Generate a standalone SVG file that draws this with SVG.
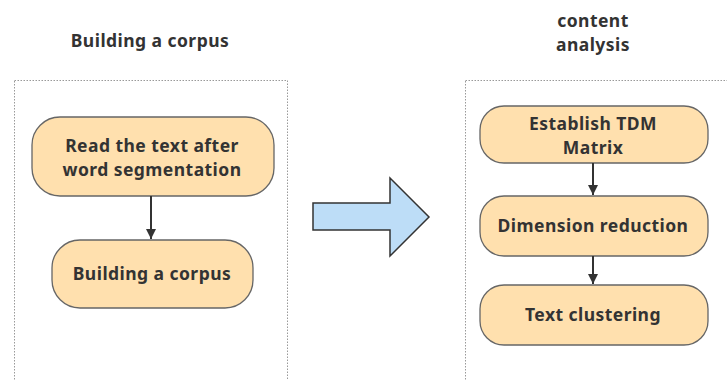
<svg xmlns="http://www.w3.org/2000/svg" width="727" height="380" viewBox="0 0 727 380">
<style>
text{font-family:"Noto Sans","Open Sans","Liberation Sans",sans-serif;font-weight:bold;font-size:17.5px;fill:#333;text-anchor:middle;letter-spacing:0.45px}
.box{fill:#FFE0AE;stroke:#666;stroke-width:1.3}
.cont{fill:none;stroke:#999;stroke-width:1;stroke-dasharray:1.5 1.5}
.edge{stroke:#333;stroke-width:2;fill:none}
</style>
<defs>
<marker id="ah" viewBox="0 0 10 10" refX="10" refY="5" markerWidth="5" markerHeight="6" orient="auto" markerUnits="strokeWidth">
<path d="M0,0 L10,5 L0,10 Z" fill="#333"/>
</marker>
</defs>
<rect width="727" height="380" fill="#fff"/>
<g id="left-container">
<rect class="cont" x="14.5" y="80.5" width="273" height="310"/>
<text x="150" y="47">Building a corpus</text>
</g>
<g id="right-container">
<rect class="cont" x="465.5" y="80.5" width="300" height="310"/>
<text x="593" y="27"><tspan x="593">content</tspan><tspan x="593" dy="24">analysis</tspan></text>
</g>
<g id="n1">
<rect class="box" x="32" y="117" width="242" height="79" rx="28"/>
<text x="152" y="152"><tspan x="152">Read the text after</tspan><tspan x="152" dy="24">word segmentation</tspan></text>
</g>
<g id="n2">
<rect class="box" x="52" y="240" width="201" height="68" rx="28"/>
<text x="152" y="280">Building a corpus</text>
</g>
<g id="n3">
<rect class="box" x="480" y="106" width="228" height="57" rx="24"/>
<text x="593" y="130"><tspan x="593">Establish TDM</tspan><tspan x="593" dy="24">Matrix</tspan></text>
</g>
<g id="n4">
<rect class="box" x="480" y="196" width="228" height="60" rx="24"/>
<text x="593" y="232">Dimension reduction</text>
</g>
<g id="n5">
<rect class="box" x="480" y="285" width="228" height="60" rx="24"/>
<text x="593" y="321">Text clustering</text>
</g>
<g id="big-arrow">
<path d="M313,203 L390,203 L390,178 L429,217 L390,256 L390,230 L313,230 Z" fill="#BDDDF7" stroke="#333" stroke-width="1.5" stroke-linejoin="miter"/>
</g>
<g id="connectors">
<line class="edge" x1="151" y1="196" x2="151" y2="239" marker-end="url(#ah)"/>
<line class="edge" x1="593" y1="163" x2="593" y2="195" marker-end="url(#ah)"/>
<line class="edge" x1="593" y1="256" x2="593" y2="284" marker-end="url(#ah)"/>
</g>
</svg>
